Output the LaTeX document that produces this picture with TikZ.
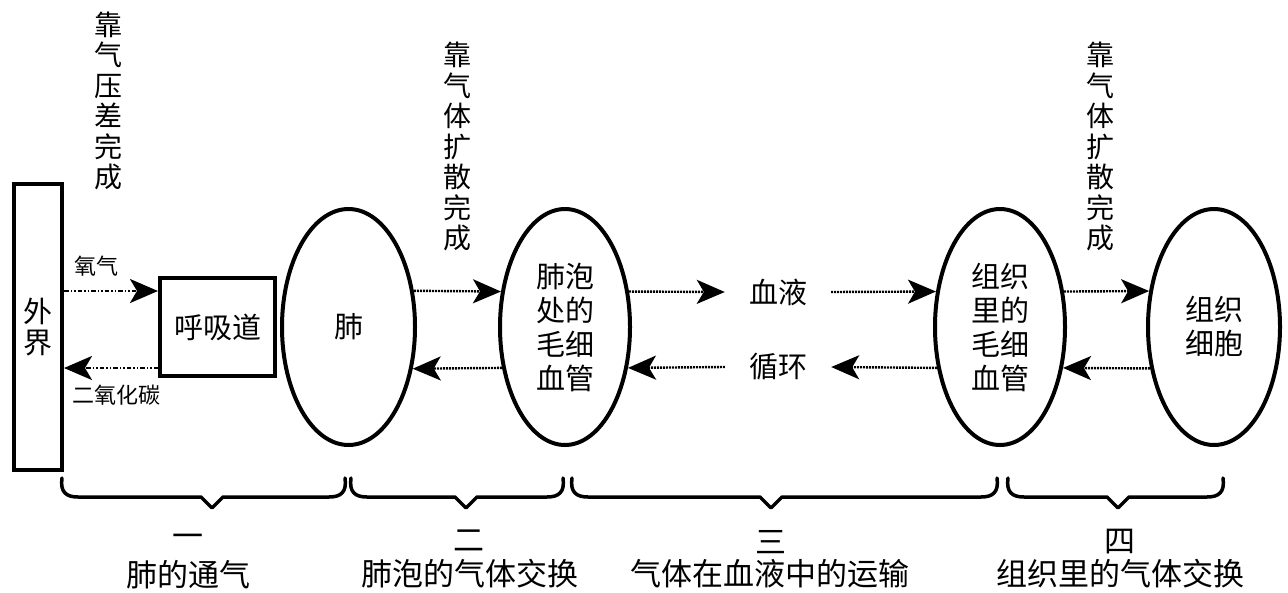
\documentclass[tikz,border=0pt]{standalone}
\usepackage{fontspec}
\setmainfont{Noto Sans CJK SC}
\usetikzlibrary{arrows.meta,shapes.geometric}
\begin{document}
\begin{tikzpicture}[x=1pt,y=-1pt,
  boxnode/.style={draw,line width=4pt,inner sep=0pt,font=\fontsize{29}{31}\selectfont,align=center},
  ovalnode/.style={draw,ellipse,line width=4pt,inner sep=0pt,minimum width=130pt,minimum height=236pt,font=\fontsize{29}{34}\selectfont,align=center},
  vtextnode/.style={inner sep=0pt,align=center,font=\fontsize{28}{30.5}\selectfont},
  smalllbl/.style={inner sep=0pt,font=\fontsize{22}{24}\selectfont},
  midlbl/.style={inner ysep=0pt,inner xsep=24pt,font=\fontsize{29}{31}\selectfont},
  captxt/.style={inner sep=0pt,align=center,font=\fontsize{31}{33}\selectfont},
  arrowtip/.style={-{Stealth[length=28pt,width=24pt,inset=7pt]}},
  dotline/.style={arrowtip,line width=2.4pt,dash pattern=on 2pt off 1pt},
  dashdotline/.style={arrowtip,line width=2.4pt,dash pattern=on 4.5pt off 2pt on 1.5pt off 2pt on 1.5pt off 2pt},
  bracestyle/.style={line width=3.5pt,line join=round,line cap=round}
]
\useasboundingbox (0,0) rectangle (1288,592);

% nodes
\node[boxnode,minimum width=48pt,minimum height=286pt] (outside) at (38,327) {外\\界};
\node[boxnode,minimum width=115pt,minimum height=98pt] (airway) at (217.5,327) {呼吸道};
\node[ovalnode,minimum width=133pt] (lung) at (348.5,327) {肺};
\node[ovalnode] (capA) at (565,327) {肺泡\\处的\\毛细\\血管};
\node[ovalnode] (capB) at (1000,327) {组织\\里的\\毛细\\血管};
\node[ovalnode,minimum width=132pt] (cell) at (1214,327) {组织\\细胞};

\node[midlbl] (blood) at (778,292) {血液};
\node[midlbl] (circ) at (778,367) {循环};

% vertical notes
\node[vtextnode] (noteA) at (108,101) {靠\\气\\压\\差\\完\\成};
\node[vtextnode] (noteB) at (457,146.5) {靠\\气\\体\\扩\\散\\完\\成};
\node[vtextnode] (noteC) at (1100,146.5) {靠\\气\\体\\扩\\散\\完\\成};

% small labels
\node[smalllbl] (lblO) at (96,266) {氧气};
\node[smalllbl] (lblC) at (116,395) {二氧化碳};

% arrows
\draw[dashdotline] ([yshift=36pt]outside.east) -- ([yshift=36pt]airway.west);
\draw[dashdotline] ([yshift=-41pt]airway.west) -- ([yshift=-41pt]outside.east);

\draw[dotline] (lung.29) -- (capA.151);
\draw[dotline] (capA.213) -- (lung.-33);

\draw[dotline] (capA.29) -- (blood.west);
\draw[dotline] (blood.east) -- (capB.151);
\draw[dotline] (circ.west) -- (capA.-33);
\draw[dotline] (capB.213) -- (circ.east);

\draw[dotline] (capB.29) -- (cell.151);
\draw[dotline] (cell.213) -- (capB.-33);

% braces
\newcommand\mybrace[3]{%
  \draw[bracestyle] (#1,478) .. controls ({#1-2},492) and ({#1+4},497) .. ({#1+16},497)
    -- ({#2-11},497) -- (#2,508) -- ({#2+11},497) -- ({#3-16},497)
    .. controls ({#3-4},497) and ({#3+2},492) .. (#3,478);}
\mybrace{62}{212}{345}
\mybrace{351}{466}{563}
\mybrace{572}{771}{997}
\mybrace{1008}{1118}{1223}

% captions
\node[captxt] (n1) at (188,541) {一};
\node[captxt] (t1) at (188,575) {肺的通气};
\node[captxt] (n2) at (469,541) {二};
\node[captxt] (t2) at (470,574) {肺泡的气体交换};
\node[captxt] (n3) at (771,542) {三};
\node[captxt] (t3) at (770,574) {气体在血液中的运输};
\node[captxt] (n4) at (1120,542) {四};
\node[captxt] (t4) at (1120,574) {组织里的气体交换};
\end{tikzpicture}
\end{document}
